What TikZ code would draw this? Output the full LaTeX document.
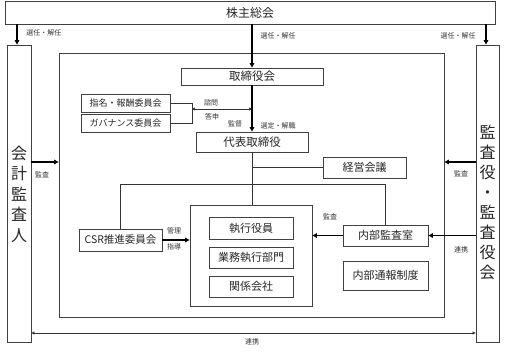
\documentclass[tikz,border=0pt]{standalone}
\usepackage{fontspec}
\setmainfont{Noto Sans CJK JP}
\usetikzlibrary{arrows.meta}
\tikzset{
  box/.style={draw=black!75, line width=0.8pt, inner sep=0pt, text=black!85, font=\fontsize{11}{13}\selectfont},
  conn/.style={draw=black!80, line width=0.8pt},
  thickarrow/.style={draw=black, line width=1.4pt, -{Triangle[length=4.5pt,width=4.5pt]}},
  twoarrow/.style={draw=black!80, line width=0.8pt, {Triangle[length=3pt,width=3pt]}-{Triangle[length=3pt,width=3pt]}},
  lbl/.style={inner sep=0pt, text=black!80, font=\fontsize{7}{8}\selectfont},
  vtext/.style={inner sep=0pt, align=center, text=black!85, font=\fontsize{16}{20.5}\selectfont}
}
\begin{document}
\begin{tikzpicture}[x=1pt,y=-1pt]
\useasboundingbox (0,0) rectangle (506,352);
% boxes
\node[box, minimum width=490pt, minimum height=23pt, font=\fontsize{12}{14}\selectfont] (top) at (250,12.5) {株主総会};
\node[box, minimum width=24pt, minimum height=297pt] (left) at (19,193.5) {};
\node[box, minimum width=23pt, minimum height=297pt] (right) at (487.5,193.5) {};
\node[vtext] (lefttxt) at (19,194) {会\\計\\監\\査\\人};
\node[vtext, font=\fontsize{16}{20}\selectfont] (righttxt) at (487.5,202) {監\\査\\役\\・\\監\\査\\役\\会};
\node[box, minimum width=385pt, minimum height=264pt] (inner) at (251.5,185) {};
\node[box, minimum width=142pt, minimum height=17pt, font=\fontsize{11.5}{13}\selectfont] (tori) at (252,76.5) {取締役会};
\node[box, minimum width=112pt, minimum height=20pt, font=\fontsize{11.5}{13}\selectfont] (daihyo) at (252,142) {代表取締役};
\node[box, minimum width=89pt, minimum height=18pt, font=\fontsize{9}{11}\selectfont] (shimei) at (125.5,103) {指名・報酬委員会};
\node[box, minimum width=89pt, minimum height=18pt, font=\fontsize{9}{11}\selectfont] (gov) at (125.5,123) {ガバナンス委員会};
\node[box, minimum width=83pt, minimum height=21pt] (keiei) at (364.5,167.5) {経営会議};
\node[box, minimum width=122pt, minimum height=101pt] (group) at (251,255.5) {};
\node[box, minimum width=84pt, minimum height=22pt] (shikko) at (251,228) {執行役員};
\node[box, minimum width=84pt, minimum height=21pt] (gyomu) at (251,257.5) {業務執行部門};
\node[box, minimum width=84pt, minimum height=21pt] (kankei) at (251,286.5) {関係会社};
\node[box, minimum width=83pt, minimum height=22pt, font=\fontsize{10.5}{12}\selectfont] (csr) at (120.5,240) {CSR推進委員会};
\node[box, minimum width=85pt, minimum height=21pt] (naibu) at (385.5,235.5) {内部監査室};
\node[box, minimum width=85pt, minimum height=29pt] (tsuho) at (385.5,275.5) {内部通報制度};
% helper coordinates
\coordinate (la) at (17,0);
\coordinate (ra) at (486,0);
\coordinate (ya) at (0,162);
\coordinate (yb) at (0,333);
\coordinate (hl) at (0,184);
\coordinate (bk) at (192,0);
\coordinate (yc) at (0,109);
% arrows from top
\draw[thickarrow] (top.south -| la) -- (left.north -| la);
\draw[thickarrow] (top.south -| ra) -- (right.north -| ra);
\draw[thickarrow] (top.south -| tori.north) -- (tori.north);
\draw[thickarrow] (tori.south) -- (daihyo.north);
% committees bracket
\draw[conn] (shimei.east) -- (shimei.east -| bk) -- (gov.east -| bk) -- (gov.east);
\draw[twoarrow] (bk |- yc) -- (tori.south |- yc);
% daihyo down
\draw[conn] (daihyo.south) -- (daihyo.south |- group.north);
\draw[conn] (daihyo.south |- keiei.west) -- (keiei.west);
\draw[conn] (csr.north) -- (csr.north |- hl) -- (naibu.north |- hl) -- (naibu.north);
% audit arrows
\draw[thickarrow] (left.east |- ya) -- (inner.west |- ya);
\draw[thickarrow] (right.west |- ya) -- (inner.east |- ya);
\draw[thickarrow] (csr.east) -- (csr.east -| group.west);
\draw[thickarrow] (naibu.west) -- (naibu.west -| group.east);
\draw[thickarrow] (naibu.east -| right.west) -- (naibu.east);
\draw[twoarrow] (left.east |- yb) -- (right.west |- yb);
% labels
\node[lbl] (l1) at (44,33) {選任・解任};
\node[lbl] (l2) at (278,36) {選任・解任};
\node[lbl] (l3) at (458,36) {選任・解任};
\node[lbl] (l4) at (211,103) {諮問};
\node[lbl] (l5) at (212,117) {答申};
\node[lbl] (l6) at (235,124) {監督};
\node[lbl] (l7) at (278,126) {選定・解職};
\node[lbl] (l8) at (42,175) {監査};
\node[lbl] (l9) at (461,174) {監査};
\node[lbl] (l10) at (174,231) {管理};
\node[lbl] (l11) at (174,247) {指導};
\node[lbl] (l12) at (330,217) {監査};
\node[lbl] (l13) at (461,250) {連携};
\node[lbl] (l14) at (252,342) {連携};
\end{tikzpicture}
\end{document}
